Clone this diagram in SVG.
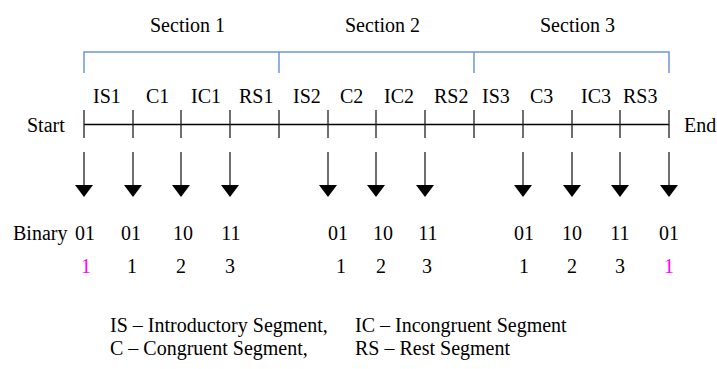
<svg xmlns="http://www.w3.org/2000/svg" width="717" height="369" viewBox="0 0 717 369">
<style>
text{font-family:'Liberation Serif',Tinos,'DejaVu Serif',serif;font-size:20px;fill:#000}
.m{text-anchor:middle}
.mag{fill:#ff00ff}
.br{stroke:#6b98d8;stroke-width:1.5;fill:none}
.tl{stroke:#000;stroke-width:1.3;fill:none}
.tk{stroke:#222;stroke-width:1.3;fill:none}
.ar{stroke:#222;stroke-width:1.3;fill:none}
.ah{fill:#000}
</style>
<rect width="717" height="369" fill="#fff"/>
<g font-family="Liberation Serif, Tinos, DejaVu Serif, serif">
<g id="sections">
<text x="150" y="32">Section 1</text>
<text x="345" y="32">Section 2</text>
<text x="540" y="32">Section 3</text>
</g>
<g id="bracket">
<path class="br" d="M84,73 V52 H669 V73 M279,52 V73 M474,52 V73"/>
</g>
<g id="segment-labels">
<text x="93" y="103">IS1</text>
<text x="146" y="103">C1</text>
<text x="191" y="103">IC1</text>
<text x="239" y="103">RS1</text>
<text x="293" y="103">IS2</text>
<text x="340" y="103">C2</text>
<text x="384" y="103">IC2</text>
<text x="434" y="103">RS2</text>
<text x="482" y="103">IS3</text>
<text x="530" y="103">C3</text>
<text x="581" y="103">IC3</text>
<text x="623" y="103">RS3</text>
</g>
<g id="timeline">
<text x="27" y="132">Start</text>
<text x="684" y="132">End</text>
<path class="tl" d="M84,124.5 H669"/>
<path class="tk" d="M84,110 V138 M133,110 V138 M181,110 V138 M230,110 V138 M279,110 V138 M328,110 V138 M376,110 V138 M425,110 V138 M474,110 V138 M523,110 V138 M572,110 V138 M620,110 V138 M669,110 V138"/>
</g>
<g id="connectors">
<path class="ar" d="M84,152 V186 M133,152 V186 M181,152 V186 M230,152 V186 M328,152 V186 M376,152 V186 M425,152 V186 M523,152 V186 M572,152 V186 M620,152 V186 M669,152 V186"/>
<g class="ah">
<polygon points="75,185 93,185 84,197"/>
<polygon points="124,185 142,185 133,197"/>
<polygon points="172,185 190,185 181,197"/>
<polygon points="221,185 239,185 230,197"/>
<polygon points="319,185 337,185 328,197"/>
<polygon points="367,185 385,185 376,197"/>
<polygon points="416,185 434,185 425,197"/>
<polygon points="514,185 532,185 523,197"/>
<polygon points="563,185 581,185 572,197"/>
<polygon points="611,185 629,185 620,197"/>
<polygon points="660,185 678,185 669,197"/>
</g>
</g>
<g id="binary">
<text x="13" y="240">Binary</text>
<text class="m" x="85" y="240">01</text>
<text class="m" x="131" y="240">01</text>
<text class="m" x="183" y="240">10</text>
<text class="m" x="231" y="240">11</text>
<text class="m" x="338" y="240">01</text>
<text class="m" x="383" y="240">10</text>
<text class="m" x="428" y="240">11</text>
<text class="m" x="524" y="240">01</text>
<text class="m" x="572" y="240">10</text>
<text class="m" x="620" y="240">11</text>
<text class="m" x="669" y="240">01</text>
</g>
<g id="numbers">
<text class="m mag" x="86" y="273">1</text>
<text class="m" x="132" y="273">1</text>
<text class="m" x="181" y="273">2</text>
<text class="m" x="230" y="273">3</text>
<text class="m" x="341" y="273">1</text>
<text class="m" x="381" y="273">2</text>
<text class="m" x="427" y="273">3</text>
<text class="m" x="524" y="273">1</text>
<text class="m" x="572" y="273">2</text>
<text class="m" x="620" y="273">3</text>
<text class="m mag" x="669" y="273">1</text>
</g>
<g id="legend">
<text x="110" y="332">IS – Introductory Segment,</text>
<text x="355" y="332">IC – Incongruent Segment</text>
<text x="110" y="355">C – Congruent Segment,</text>
<text x="355" y="355">RS – Rest Segment</text>
</g>
</g>
</svg>
